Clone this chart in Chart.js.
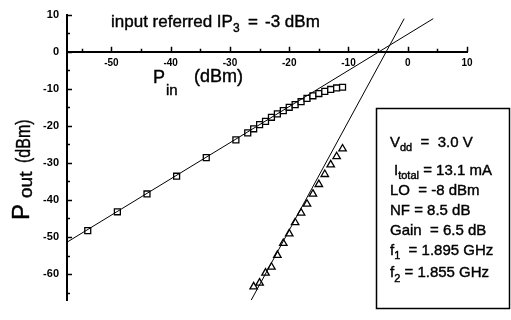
<!DOCTYPE html>
<html>
<head>
<meta charset="utf-8">
<script src="https://cdn.jsdelivr.net/npm/chart.js@4.4.0/dist/chart.umd.min.js"></script>
<style>
  html, body { margin: 0; padding: 0; background: #fff; }
  #chart { display: block; }
</style>
</head>
<body>
<canvas id="chart" width="511" height="320"></canvas>
<script>
// fundamental output (squares)
const pinFund = [-54, -49, -44, -39, -34, -29, -27, -26, -25, -24, -23, -22, -21, -20, -19, -18, -17, -16, -15, -14, -13, -12, -11];
const poutFund = [-48.3, -43.2, -38.4, -33.6, -28.6, -23.8, -21.9, -20.8, -19.7, -18.8, -17.7, -16.8, -15.9, -15.0, -14.3, -13.5, -12.6, -11.9, -11.3, -10.7, -10.2, -9.8, -9.6];

// third order intermod (triangles)
const pinIm3 = [-26, -25, -24, -23, -22, -21, -20, -19, -18, -17, -16, -15, -14, -13, -12, -11];
const poutIm3 = [-63.4, -62.4, -59.7, -58.1, -54.9, -51.7, -49.1, -46.1, -43.5, -41.1, -38.4, -35.8, -33.1, -30.5, -28.3, -26.2];

// extrapolated fit lines
const fundFitX = [-57.5, 4.3];
const fundFitY = [-51.4, 8.9];
const im3FitX = [-26.4, -0.6];
const im3FitY = [-67, 8.9];

const xTicks = [-50, -40, -30, -20, -10, 0, 10];
const yTicks = [10, 0, -10, -20, -30, -40, -50, -60];

const FONT = "'Liberation Sans', Arial, sans-serif";

function pts(xs, ys) {
  return xs.map((x, i) => ({ x: x, y: ys[i] }));
}

// small tick marks: x ticks point up from the y=0 line, y ticks point into the plot
const tickMarks = {
  id: "tickMarks",
  afterDatasetsDraw(chart) {
    const ctx = chart.ctx;
    const xs = chart.scales.x;
    const ys = chart.scales.y;
    const y0 = ys.getPixelForValue(0);
    const x0 = ys.right;
    ctx.save();
    ctx.strokeStyle = "#000";
    ctx.lineWidth = 1.5;
    ctx.beginPath();
    for (let v = xTicks[0] - 5; v <= xTicks[xTicks.length - 1]; v += 5) {
      const len = xTicks.includes(v) ? 5 : 3;
      const px = Math.round(xs.getPixelForValue(v)) + 0.5;
      ctx.moveTo(px, y0);
      ctx.lineTo(px, y0 - len);
    }
    for (let v = yTicks[yTicks.length - 1] - 5; v <= yTicks[0]; v += 5) {
      const len = yTicks.includes(v) ? 5 : 3;
      const py = Math.round(ys.getPixelForValue(v)) + 0.5;
      ctx.moveTo(x0, py);
      ctx.lineTo(x0 + len, py);
    }
    ctx.stroke();
    ctx.restore();
  }
};

// slightly heavier text, like the scanned original
function txt(ctx, s, x, y) {
  ctx.fillText(s, x, y);
  ctx.strokeText(s, x, y);
}

// parts: [text, size, x, dy]
function put(ctx, parts, y) {
  parts.forEach(p => {
    ctx.font = p[1] + "px " + FONT;
    txt(ctx, p[0], p[2], y + (p[3] || 0));
  });
}

// parts: [text, size, dy], drawn one after another
function flow(ctx, parts, x, y) {
  let cx = x;
  parts.forEach(p => {
    ctx.font = p[1] + "px " + FONT;
    txt(ctx, p[0], cx, y + (p[2] || 0));
    cx += ctx.measureText(p[0]).width;
  });
}

const labels = {
  id: "labels",
  afterDraw(chart) {
    const ctx = chart.ctx;
    ctx.save();
    ctx.fillStyle = "#000";
    ctx.strokeStyle = "#000";
    ctx.lineWidth = 0.4;
    ctx.textBaseline = "alphabetic";
    ctx.textAlign = "left";

    // x axis title
    put(ctx, [["P", 18, 153], ["in", 15, 166, 12], ["(dBm)", 18, 194, -1]], 83);

    // y axis title, rotated
    ctx.save();
    ctx.translate(29, 0);
    ctx.rotate(-Math.PI / 2);
    put(ctx, [["P", 24, -220], ["out", 19, -198, 3]], 0);
    ctx.translate(-163, 1);
    ctx.scale(0.8, 1);
    put(ctx, [["(dBm)", 20, 0]], 0);
    ctx.restore();

    // IP3 annotation
    put(ctx, [["input referred IP", 17, 111], ["3", 12, 233, 5], ["=", 17, 248], ["-3 dBm", 17, 265]], 27);

    // parameter box
    ctx.lineWidth = 1.5;
    ctx.strokeRect(376.5, 108.5, 133, 200);
    ctx.lineWidth = 0.4;
    flow(ctx, [["V", 15], ["dd", 11, 4], ["  =  3.0 V", 15]], 390, 147);
    flow(ctx, [["I", 15], ["total", 11, 4], [" = 13.1 mA", 15]], 394, 175);
    flow(ctx, [["LO  = -8 dBm", 15]], 390, 195);
    flow(ctx, [["NF = 8.5 dB", 15]], 390, 215);
    flow(ctx, [["Gain  = 6.5 dB", 15]], 390, 235);
    flow(ctx, [["f", 15], ["1", 11, 4], ["  = 1.895 GHz", 15]], 390, 255);
    flow(ctx, [["f", 15], ["2", 11, 5], [" = 1.855 GHz", 15]], 390, 277);
    ctx.restore();
  }
};

const markerStyle = {
  showLine: false,
  borderColor: "#000",
  backgroundColor: "#fff",
  borderWidth: 1.3
};

new Chart(document.getElementById("chart"), {
  type: "scatter",
  data: {
    datasets: [
      {
        data: pts(fundFitX, fundFitY),
        showLine: true,
        pointRadius: 0,
        borderColor: "#000",
        borderWidth: 1
      },
      {
        data: pts(im3FitX, im3FitY),
        showLine: true,
        pointRadius: 0,
        borderColor: "#000",
        borderWidth: 1
      },
      Object.assign({
        data: pts(pinFund, poutFund),
        pointStyle: "rect",
        pointRadius: 4.2
      }, markerStyle),
      Object.assign({
        data: pts(pinIm3, poutIm3),
        pointStyle: "triangle",
        pointRadius: 4.3
      }, markerStyle)
    ]
  },
  options: {
    responsive: false,
    animation: false,
    layout: { padding: { left: 0, top: 11, right: 44, bottom: 20 } },
    plugins: {
      legend: { display: false },
      tooltip: { enabled: false }
    },
    scales: {
      x: {
        type: "linear",
        min: -57.5,
        max: 10,
        position: { y: 0 },
        afterBuildTicks: s => { s.ticks = xTicks.map(v => ({ value: v })); },
        grid: { display: false, drawTicks: false },
        border: { display: true, color: "#000", width: 2 },
        ticks: {
          color: "#000",
          padding: 6,
          font: { family: FONT, size: 10, weight: "bold" }
        }
      },
      y: {
        type: "linear",
        min: -67,
        max: 10,
        position: "left",
        afterBuildTicks: s => { s.ticks = yTicks.map(v => ({ value: v })); },
        afterFit: s => { s.width = 67; },
        grid: { display: false, drawTicks: false },
        border: { display: true, color: "#000", width: 2 },
        ticks: {
          color: "#000",
          padding: 8,
          font: { family: FONT, size: 11, weight: "bold" }
        }
      }
    }
  },
  plugins: [tickMarks, labels]
});
</script>
</body>
</html>
